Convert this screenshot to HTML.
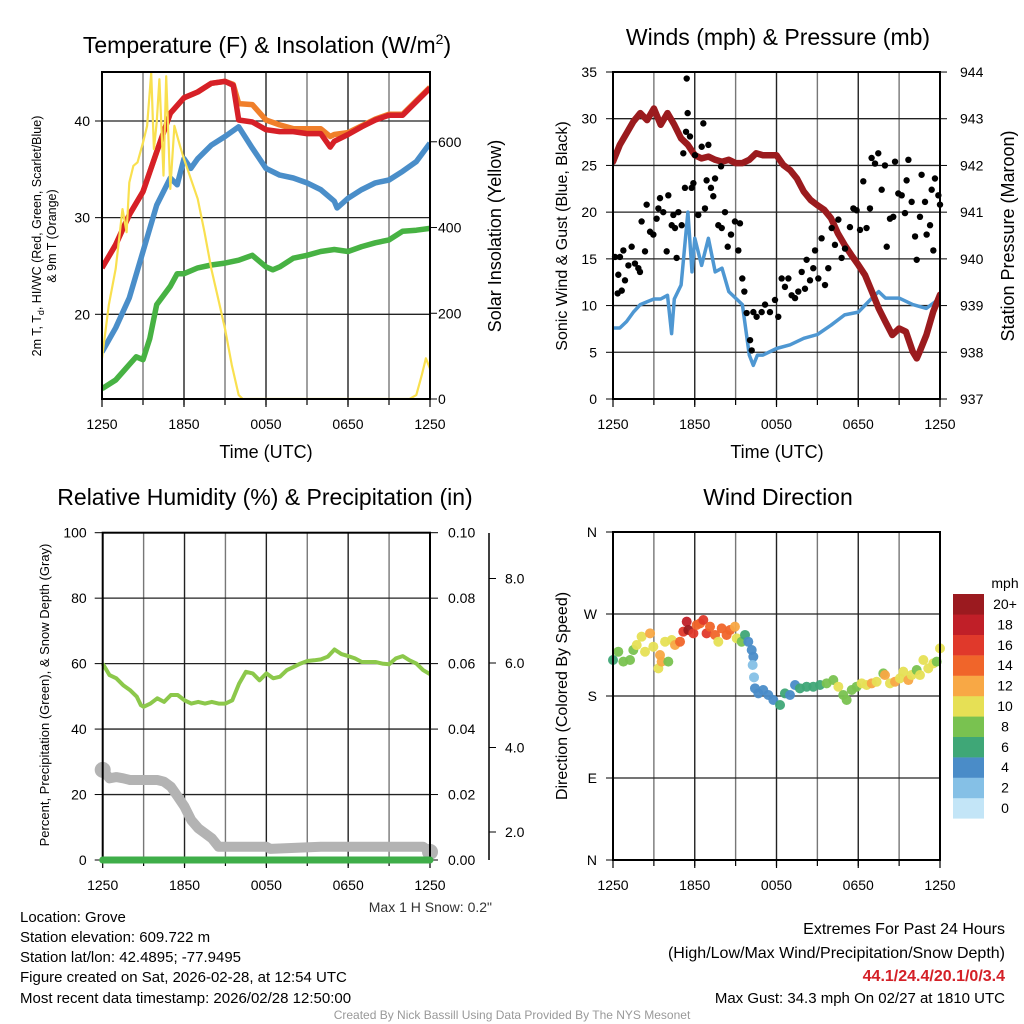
<!DOCTYPE html>
<html><head><meta charset="utf-8">
<style>
html,body{margin:0;padding:0;background:#fff;}
svg{display:block;font-family:"Liberation Sans",Arial,sans-serif;}
</style></head>
<body>
<svg id="root" width="1024" height="1024" viewBox="0 0 1024 1024" xmlns="http://www.w3.org/2000/svg">
<defs>
<clipPath id="c1"><rect x="102" y="72" width="328" height="327"/></clipPath>
<clipPath id="c2"><rect x="613" y="72" width="327" height="327"/></clipPath>
</defs>
<g id="p1"></g>
<g id="p2"></g>
<g id="p3"></g>
<g id="p4"></g>
<g id="txt">
<text x="20" y="922" font-size="15">Location: Grove</text>
<text x="20" y="942" font-size="15">Station elevation: 609.722 m</text>
<text x="20" y="962" font-size="15">Station lat/lon: 42.4895; -77.9495</text>
<text x="20" y="982" font-size="15">Figure created on Sat, 2026-02-28, at 12:54 UTC</text>
<text x="20" y="1003" font-size="15">Most recent data timestamp: 2026/02/28 12:50:00</text>
<text x="1005" y="934" font-size="16" text-anchor="end">Extremes For Past 24 Hours</text>
<text x="1005" y="958" font-size="16" text-anchor="end">(High/Low/Max Wind/Precipitation/Snow Depth)</text>
<text x="1005" y="981" font-size="16" font-weight="bold" fill="#d42027" text-anchor="end">44.1/24.4/20.1/0/3.4</text>
<text x="1005" y="1003" font-size="15" text-anchor="end">Max Gust: 34.3 mph On 02/27 at 1810 UTC</text>
<text x="512" y="1019" font-size="12" fill="#999" text-anchor="middle">Created By Nick Bassill Using Data Provided By The NYS Mesonet</text>
<text x="492" y="912" font-size="14" fill="#333" text-anchor="end">Max 1 H Snow: 0.2"</text>
</g>
</svg>
<script>
// ---------- Panel 1 data ----------
const redHours=[0,1,2,3,4,5,6,7,8,9,9.6,10,11,12,13,14,15,16,16.7,17,18,19,20,21,22,23,24];
const redTemp=[24.8,27.2,30.3,32.7,36.8,40.8,42.4,43.0,43.9,44.1,43.7,40.1,39.9,39.1,38.9,38.9,38.7,38.7,37.3,37.9,38.6,39.4,40.1,40.6,40.6,42.0,43.4];
const orangeTemp=[24.8,27.2,30.3,32.7,36.8,40.8,42.4,43.0,43.9,44.1,43.8,41.8,41.7,40.1,39.6,39.2,39.2,39.2,38.4,38.6,38.8,39.5,40.2,40.7,40.7,42.1,43.5];
const dewHours=[0,1,2,3,4,5,5.5,6,6.5,7,8,9,10,11,12,13,14,15,16,17,17.2,18,19,20,21,22,23,24];
const dewTemp=[16.1,18.6,21.7,26.5,31.3,34.1,33.4,36.1,35.1,36.1,37.5,38.4,39.4,37.2,35.1,34.4,34.1,33.6,32.9,31.7,31.0,32.0,32.9,33.6,33.9,34.8,35.8,37.7];
const wcHours=[0,1,2,2.5,3,3.5,4,5,5.5,6,7,8,9,10,11,12,12.5,13,14,15,16,17,18,19,20,21,22,23,24];
const wcTemp=[12.3,13.2,14.8,15.6,15.3,17.5,21.0,22.9,24.2,24.2,24.8,25.1,25.3,25.6,26.1,24.9,24.6,24.9,25.8,26.1,26.5,26.7,26.5,27.0,27.4,27.7,28.6,28.7,28.9];
const solarHours=[0,0.5,1,1.5,1.8,2,2.3,2.6,3,3.3,3.6,3.8,4,4.2,4.5,4.7,5,5.3,5.7,6,7,7.5,8,8.5,9,9.5,10,10.3,22.5,23,23.4,23.7,24];
const solarVals=[95,219,304,443,389,505,544,552,598,637,761,583,645,746,521,753,490,637,591,560,467,389,304,234,164,79,9,0,0,9,56,95,71];
const timeTickLabels=["1250","1850","0050","0650","1250"];
const tempTicks=[20,30,40];
const solarTicks=[0,200,400,600];
// ---------- Panel 2 data ----------
const presHours=[0,0.5,1,1.5,2,2.5,3,3.5,4,4.5,5,5.5,6,6.5,7,7.5,8,8.5,9,9.5,10,10.5,11,11.5,12,12.5,13,13.5,14,14.5,15,15.5,16,16.5,17,17.5,18,18.5,19,19.5,20,20.5,21,21.5,22,22.3,22.5,23,23.5,24];
const presVals=[942.08,942.44,942.69,942.94,943.12,942.97,943.22,942.87,943.12,942.87,942.58,942.44,942.22,942.15,942.19,942.12,942.08,942.12,942.05,942.05,942.12,942.26,942.22,942.22,942.22,942.01,941.90,941.72,941.44,941.26,941.15,941.05,940.87,940.55,940.30,940.08,939.87,939.65,939.30,938.94,938.65,938.37,938.51,938.44,938.01,937.87,938.01,938.37,938.87,939.23];
const windHours=[0,0.5,1,1.5,2,2.5,3,3.5,4,4.3,4.5,5,5.5,5.8,6,6.5,7,7.5,8,8.5,9,9.5,10,10.3,10.6,11,12,13,14,15,16,17,18,19,19.5,20,21,22,23,24];
const windVals=[7.6,7.6,8.3,9.3,10.1,10.4,10.7,10.7,11.1,7.0,10.7,12.2,20.0,13.6,17.2,14.3,17.2,13.6,14.0,11.5,10.8,10.1,4.7,3.6,4.7,4.7,5.4,5.8,6.5,6.9,7.9,9.0,9.3,10.8,11.5,10.8,10.8,10.1,9.7,10.8];
const gustHours=[0.15,0.39,0.34,0.64,0.51,0.76,0.88,1.13,1.37,1.61,1.86,1.98,2.10,2.35,2.47,2.72,2.96,3.20,3.33,3.45,3.69,3.94,4.06,4.31,4.43,4.55,4.67,4.80,5.04,5.16,5.28,5.36,5.41,5.48,5.65,5.77,5.90,6.02,6.26,6.51,6.63,6.75,6.87,7.00,7.19,7.36,7.49,7.73,7.93,7.98,8.22,8.42,8.66,8.95,9.20,9.32,9.49,9.64,9.81,10.06,10.18,10.30,10.54,10.91,11.16,11.52,11.89,12.13,12.38,12.62,12.87,13.11,13.36,13.60,13.85,14.09,14.21,14.46,14.70,14.83,15.07,15.31,15.56,15.80,16.05,16.29,16.54,16.78,17.03,17.39,17.64,17.88,18.13,18.37,18.61,18.86,18.98,19.23,19.47,19.72,19.96,20.09,20.33,20.57,20.70,20.94,21.19,21.43,21.55,21.68,21.92,22.17,22.29,22.53,22.65,22.90,23.02,23.27,23.39,23.51,23.63,23.88,24.0];
const gustVals=[15.2,13.3,11.3,11.6,15.2,15.9,12.7,14.3,16.3,14.5,14.0,13.6,19.0,15.8,20.8,17.9,17.6,19.3,20.4,21.5,20.0,15.8,21.8,18.6,19.7,18.3,15.1,20.0,18.6,26.3,22.6,28.6,34.3,30.6,28.1,22.6,23.1,26.1,19.7,27.0,29.5,20.4,23.4,27.2,22.6,21.7,23.6,18.6,24.9,18.3,20.0,16.3,17.6,19.0,15.9,18.8,12.9,11.5,9.2,6.3,5.2,9.3,8.8,9.3,10.1,9.3,10.6,8.8,12.9,12.0,12.9,11.1,10.8,11.5,13.6,11.8,14.9,12.7,14.0,15.9,12.9,17.2,12.2,14.0,18.3,16.5,19.2,15.1,16.1,18.4,20.4,20.2,18.1,23.3,18.3,20.4,25.8,25.2,26.3,22.4,25.0,16.3,19.3,19.5,25.4,22.0,21.8,19.9,23.4,25.6,21.1,17.4,14.9,19.5,24.0,21.1,17.6,18.6,22.4,15.9,23.6,21.8,20.8];
const windTicks=[0,5,10,15,20,25,30,35];
const presTicks=[937,938,939,940,941,942,943,944];
// ---------- Panel 3 data ----------
const rhHours=[0,0.5,1,1.5,2,2.5,2.8,3,3.5,4,4.5,5,5.5,6,6.5,7,7.5,8,8.5,9,9.5,10,10.5,11,11.5,12,12.5,13,13.5,14,14.5,15,15.5,16,16.5,17,17.5,18,18.5,19,19.5,20,20.5,21,21.5,22,22.5,23,23.5,24];
const rhVals=[60,56.5,55.5,53.4,51.9,49.9,47.3,46.8,47.8,49.4,48.3,50.4,50.4,48.8,47.8,48.3,47.8,48.3,47.8,47.8,48.8,53.9,57.5,57.0,54.9,57.0,55.5,56.0,58.0,59.0,60.0,60.8,61.0,61.3,62.1,64.3,62.9,62.3,61.6,60.5,60.5,60.5,60.0,59.8,61.6,62.3,61.0,60.0,58.0,56.8];
const snowHours=[0,0.5,1,1.5,2,3,4,4.5,5,5.5,6,6.5,7,7.5,8,8.5,9,12,12.3,16,20,23.5,24];
const snowVals=[3.47,3.27,3.30,3.27,3.23,3.23,3.23,3.19,3.07,2.84,2.60,2.28,2.09,1.97,1.85,1.65,1.65,1.65,1.60,1.65,1.65,1.65,1.53];
const precipHours=[0,24];
const precipVals=[0,0];
const rhTicks=[0,20,40,60,80,100];
const precipTicks=["0.00","0.02","0.04","0.06","0.08","0.10"];
const snowTicks=[2,4,6,8];
// ---------- Panel 4 data ----------
const dirHours=[0,0.39,0.76,1.25,1.49,1.74,2.1,2.35,2.72,2.96,3.33,3.45,3.57,3.82,4.06,4.31,4.55,4.92,5.16,5.41,5.53,5.9,6.14,6.39,6.63,6.87,7.12,7.49,7.73,7.98,8.34,8.59,8.95,9.08,9.44,9.69,9.93,10.18,10.3,10.25,10.35,10.42,10.67,11.03,11.4,11.77,12.26,12.62,12.99,13.36,13.72,14.21,14.7,15.19,15.68,16.17,16.54,16.9,17.15,17.52,17.88,18.25,18.62,18.99,19.35,19.84,19.96,20.33,20.7,21.06,21.31,21.68,21.92,22.29,22.53,22.78,23.14,23.51,23.76,24.0];
const dirVals=[219.5,228.6,217.7,219.5,230.5,236,245.1,228.6,248.8,234.1,210.3,225,217.7,239.6,217.7,241.4,236,239.6,250.6,261.6,252.4,248.8,257.9,259.7,263.4,248.8,256.1,247,239.6,254.2,247,252.4,256.1,243.3,239.6,247,239.6,230.5,223.1,214,200.5,188.4,182.9,186.6,181.1,175.6,170.1,182.9,181.1,192.1,188.4,190.2,190.2,192.1,193.9,197.5,190.2,181.1,175.6,186.6,190.2,193.9,192.1,193.9,195.7,204.8,203,193.9,195.7,199.4,206.7,197.5,203,208.5,203,219.5,210.3,215.8,217.7,232.3];
const dirSpeed=[6,8,8,8,8,10,10,10,12,10,10,12,12,10,8,10,12,14,16,18,20,16,14,14,16,16,14,14,10,14,14,14,12,10,8,6,4,4,4,2,2,4,4,4,4,4,6,6,4,4,6,6,6,6,8,8,10,8,8,8,8,10,10,12,10,8,12,10,12,10,10,12,10,8,10,10,10,10,8,10];
const dirTickLabels=["N","E","S","W","N"];
const speedLevels=["0","2","4","6","8","10","12","14","16","18","20+"];
const speedColors=["#c3e5f7","#85c0e6","#4a8cc8","#3fa777","#79c250","#e6e055","#f8a845","#f0652a","#e0392b","#c01f28","#9b1a1f"];

// ---------- helpers ----------
const NS="http://www.w3.org/2000/svg";
function mk(tag,attrs,parent){const e=document.createElementNS(NS,tag);for(const k in attrs)e.setAttribute(k,attrs[k]);parent.appendChild(e);return e;}
function txt(parent,x,y,s,size,anchor,extra){const t=mk('text',Object.assign({x:x,y:y,'font-size':size,'text-anchor':anchor||'start'},extra||{}),parent);t.textContent=s;return t;}
function pathD(hs,vs,xf,yf){return hs.map((h,i)=>(i?'L':'M')+xf(h).toFixed(1)+','+yf(vs[i]).toFixed(1)).join('');}

function frame(g,L,T,R,B,nameP){
  for(let i=1;i<8;i++){
    const x=L+(R-L)*i/8;
    const ln=mk('line',{x1:x,x2:x,y1:T,y2:B,stroke:i%2?'#777':'#222','stroke-width':1.4},g);
    
    
    const tk=mk('line',{x1:x,x2:x,y1:B,y2:B+6,stroke:'#000','stroke-width':1.2},g);
    
    
  }
  for(let i=0;i<5;i++){
    const x=L+(R-L)*i/4;
    const tk=mk('line',{x1:x,x2:x,y1:B,y2:B+8,stroke:'#000','stroke-width':1.2},g);
    
    
    const t=txt(g,x,B+30,timeTickLabels[i],14,'middle');
    
    
  }
}
function border(g,L,T,R,B,nameP){
  const r=mk('rect',{x:L,y:T,width:R-L,height:B-T,fill:'none',stroke:'#000','stroke-width':2},g);
  
  
}
function hgrid(g,L,R,y,nameP){
  const ln=mk('line',{x1:L,x2:R,y1:y,y2:y,stroke:'#222','stroke-width':1.3},g);
  
  
}

// ---------- Panel 1 ----------
(function(){
  const g=document.getElementById('p1');
  const L=102,T=72,R=430,B=399;
  const x=h=>L+(R-L)*h/24;
  const yT=v=>314.3-(v-20)*9.665;
  const yS=v=>B-v*0.4287;
  frame(g,L,T,R,B,'temp');
  tempTicks.forEach(v=>{hgrid(g,L,R,yT(v),'temp');
    const tk=mk('line',{x1:L-7,x2:L,y1:yT(v),y2:yT(v),stroke:'#000'},g);
    
    
    const t=txt(g,L-12,yT(v)+5,String(v),14,'end');
    
    });
  solarTicks.forEach(v=>{
    const tk=mk('line',{x1:R,x2:R+7,y1:yS(v),y2:yS(v),stroke:'#000'},g);
    
    
    const t=txt(g,R+8,yS(v)+5,String(v),14,'start');
    
    });
  const c=mk('g',{'clip-path':'url(#c1)'},g);
  const o=mk('path',{d:pathD(redHours,orangeTemp,x,yT),fill:'none',stroke:'#f07f2a','stroke-width':5.5,'stroke-linejoin':'round'},c);
  
  
  const r=mk('path',{d:pathD(redHours,redTemp,x,yT),fill:'none',stroke:'#d62027','stroke-width':5.5,'stroke-linejoin':'round'},c);
  
  
  const d=mk('path',{d:pathD(dewHours,dewTemp,x,yT),fill:'none',stroke:'#4a8ec9','stroke-width':5.5,'stroke-linejoin':'round'},c);
  
  
  const w=mk('path',{d:pathD(wcHours,wcTemp,x,yT),fill:'none',stroke:'#47b243','stroke-width':5.5,'stroke-linejoin':'round'},c);
  
  
  const s=mk('path',{d:pathD(solarHours,solarVals,x,yS),fill:'none',stroke:'#f9e04f','stroke-width':2.2,'stroke-linejoin':'round'},c);
  
  
  border(g,L,T,R,B,'temp');
  const ti=mk('text',{x:267,y:53,'font-size':23,'text-anchor':'middle'},g);
  ti.innerHTML='Temperature (F) &amp; Insolation (W/m<tspan font-size="14" dy="-9">2</tspan><tspan dy="9">)</tspan>';
  
  
  const xt=txt(g,266,458,'Time (UTC)',18,'middle');
  
  
  const yl=mk('text',{transform:'translate(41,236) rotate(-90)','font-size':12.5,'text-anchor':'middle'},g);
  yl.innerHTML='2m T, T<tspan font-size="9" dy="3">d</tspan><tspan dy="-3">, HI/WC (Red, Green, Scarlet/Blue)</tspan>';
  
  
  const yl2=txt(g,0,0,'& 9m T (Orange)',12.5,'middle',{transform:'translate(56,236) rotate(-90)'});
  
  
  const yr=txt(g,0,0,'Solar Insolation (Yellow)',18,'middle',{transform:'translate(501,236) rotate(-90)'});
  
  
})();

// ---------- Panel 2 ----------
(function(){
  const g=document.getElementById('p2');
  const L=613,T=72,R=940,B=399;
  const x=h=>L+(R-L)*h/24;
  const yW=v=>B-v*9.343;
  const yP=v=>B-(v-937)*46.71;
  frame(g,L,T,R,B,'wind');
  windTicks.forEach(v=>{hgrid(g,L,R,yW(v),'wind');
    const tk=mk('line',{x1:L-7,x2:L,y1:yW(v),y2:yW(v),stroke:'#000'},g);
    
    
    const t=txt(g,L-16,yW(v)+5,String(v),14,'end');
    
    });
  presTicks.forEach(v=>{
    const tk=mk('line',{x1:R,x2:R+7,y1:yP(v),y2:yP(v),stroke:'#000'},g);
    
    
    const t=txt(g,R+20,yP(v)+5,String(v),14,'start');
    
    });
  const c=mk('g',{'clip-path':'url(#c2)'},g);
  const w=mk('path',{d:pathD(windHours,windVals,x,yW),fill:'none',stroke:'#4e97d2','stroke-width':3.5,'stroke-linejoin':'round'},c);
  
  
  const p=mk('path',{d:pathD(presHours,presVals,x,yP),fill:'none',stroke:'#9b1b1e','stroke-width':6.5,'stroke-linejoin':'round','stroke-linecap':'round'},c);
  
  
  gustHours.forEach((h,i)=>{
    const dt=mk('circle',{cx:x(h),cy:yW(gustVals[i]),r:3.2,fill:'#000'},g);
    
    
  });
  border(g,L,T,R,B,'wind');
  const ti=txt(g,778,45,'Winds (mph) & Pressure (mb)',23,'middle');
  
  
  const xt=txt(g,777,458,'Time (UTC)',18,'middle');
  
  
  const yl=txt(g,0,0,'Sonic Wind & Gust (Blue, Black)',16,'middle',{transform:'translate(567,236) rotate(-90)'});
  
  
  const yr=txt(g,0,0,'Station Pressure (Maroon)',18,'middle',{transform:'translate(1014,236) rotate(-90)'});
  
  
})();

// ---------- Panel 3 ----------
(function(){
  const g=document.getElementById('p3');
  const L=102.7,T=532.7,R=430,B=860;
  const x=h=>L+(R-L)*h/24;
  const yR=v=>B-v*3.273;
  const yS=v=>916.5-v*42.25;
  frame(g,L,T,R,B,'rh');
  rhTicks.forEach((v,i)=>{hgrid(g,L,R,yR(v),'rh');
    const tk=mk('line',{x1:L-8,x2:L,y1:yR(v),y2:yR(v),stroke:'#000'},g);
    
    
    const t=txt(g,L-16,yR(v)+5,String(v),14,'end');
    
    
    const tk2=mk('line',{x1:R,x2:R+8,y1:yR(v),y2:yR(v),stroke:'#000'},g);
    
    
    const t2=txt(g,R+18,yR(v)+5,precipTicks[i],14,'start');
    
    });
  const sa=mk('line',{x1:489,x2:489,y1:533,y2:860,stroke:'#000','stroke-width':1.5},g);
  
  
  snowTicks.forEach(v=>{
    const tk=mk('line',{x1:489,x2:496,y1:yS(v),y2:yS(v),stroke:'#000'},g);
    
    
    const t=txt(g,505,yS(v)+5,v.toFixed(1),14,'start');
    
    });
  const s=mk('path',{d:pathD(snowHours,snowVals,x,yS),fill:'none',stroke:'#b3b3b3','stroke-width':10,'stroke-linejoin':'round','stroke-linecap':'round'},g);
  
  
  [0,snowHours.length-1].forEach(i=>{
    const cc=mk('circle',{cx:x(snowHours[i]),cy:yS(snowVals[i]),r:8,fill:'#b3b3b3'},g);
    
    });
  const rh=mk('path',{d:pathD(rhHours,rhVals,x,yR),fill:'none',stroke:'#8cc84b','stroke-width':4,'stroke-linejoin':'round'},g);
  
  
  border(g,L,T,R,B,'rh');
  const pr=mk('path',{d:pathD(precipHours,precipVals,x,v=>yR(v*1000)),fill:'none',stroke:'#3fae49','stroke-width':7,'stroke-linecap':'round'},g);
  
  
  const ti=txt(g,265,505,'Relative Humidity (%) & Precipitation (in)',23,'middle');
  
  
  const yl=txt(g,0,0,'Percent, Precipitation (Green), & Snow Depth (Gray)',13,'middle',{transform:'translate(49,695) rotate(-90)'});
  
  
})();

// ---------- Panel 4 ----------
(function(){
  const g=document.getElementById('p4');
  const L=613,T=532,R=940,B=860;
  const x=h=>L+(R-L)*h/24;
  const yD=v=>B-v*(B-T)/360;
  const col=s=>speedColors[Math.min(10,Math.max(0,Math.floor(s/2)))];
  frame(g,L,T,R,B,'dir');
  dirTickLabels.forEach((lab,i)=>{const v=i*90;hgrid(g,L,R,yD(v),'dir');
    const tk=mk('line',{x1:L-7,x2:L,y1:yD(v),y2:yD(v),stroke:'#000'},g);
    
    
    const t=txt(g,L-16,yD(v)+5,lab,14,'end');
    
    });
  dirHours.forEach((h,i)=>{
    const dt=mk('circle',{cx:x(h),cy:yD(dirVals[i]),r:5,fill:col(dirSpeed[i]),'fill-opacity':0.95},g);
    
    
  });
  border(g,L,T,R,B,'dir');
  const ti=txt(g,778,505,'Wind Direction',23,'middle');
  
  
  const yl=txt(g,0,0,'Direction (Colored By Speed)',16,'middle',{transform:'translate(567,696) rotate(-90)'});
  
  
  const cb=mk('g',{},g);
  
  
  const ml=txt(cb,1005,588,'mph',14,'middle');
  
  
  speedLevels.forEach((lab,i)=>{
    const y0=594+(10-i)*20.4;
    const rc=mk('rect',{x:953,y:y0,width:31,height:20.6,fill:speedColors[i]},cb);
    
    
    const t=txt(cb,1005,y0+15,lab,14,'middle');
    
    
  });
})();
</script>
</body></html>
